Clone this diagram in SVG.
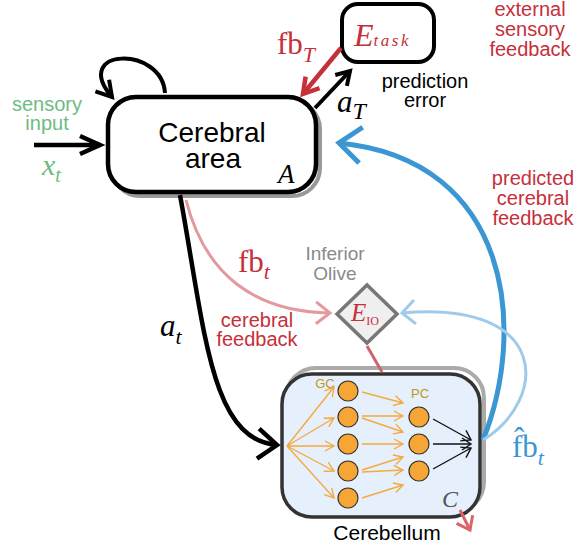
<svg xmlns="http://www.w3.org/2000/svg" width="579" height="548" viewBox="0 0 579 548">
  <style>
    .sans { font-family: "Liberation Sans", Arial, sans-serif; }
    .math { font-family: "Liberation Serif", "Times New Roman", serif; }
    .it { font-style: italic; }
    .red { fill: #c5303a; }
    .green { fill: #6dbb82; }
    .blue { fill: #3b97d3; }
    .gc { fill: #f5a634; stroke: #333; stroke-width: 1.2; }
    .orange { stroke: #f5a93e; stroke-width: 1.4; fill: none; marker-end: url(#m-orange); }
    .thin { stroke: #111; stroke-width: 1.4; fill: none; marker-end: url(#m-thin); }
    .lbl { font-size: 20px; text-anchor: middle; }
  </style>
  <defs>
    <marker id="m-blk" markerUnits="userSpaceOnUse" orient="auto" overflow="visible" markerWidth="1" markerHeight="1">
      <path d="M-20,-9 L0,0 L-20,9" fill="none" stroke="#000" stroke-width="4.5"/>
    </marker>
    <marker id="m-loop" markerUnits="userSpaceOnUse" orient="auto" overflow="visible" markerWidth="1" markerHeight="1">
      <path d="M-15,-9 L0,0 L-15,9" fill="none" stroke="#000" stroke-width="4"/>
    </marker>
    <marker id="m-at" markerUnits="userSpaceOnUse" orient="auto" overflow="visible" markerWidth="1" markerHeight="1">
      <path d="M-19,-15 L0,0 L-19,15" fill="none" stroke="#000" stroke-width="4.5"/>
    </marker>
    <marker id="m-aT" markerUnits="userSpaceOnUse" orient="auto" overflow="visible" markerWidth="1" markerHeight="1">
      <path d="M-13,-8 L0,0 L-13,8" fill="none" stroke="#000" stroke-width="4"/>
    </marker>
    <marker id="m-fbT" markerUnits="userSpaceOnUse" orient="auto" overflow="visible" markerWidth="1" markerHeight="1">
      <path d="M-15,-9 L0,0 L-15,9" fill="none" stroke="#c5303a" stroke-width="4.5"/>
    </marker>
    <marker id="m-blue" markerUnits="userSpaceOnUse" orient="auto" overflow="visible" markerWidth="1" markerHeight="1">
      <path d="M-22,-18 L0,0 L-22,18" fill="none" stroke="#3b97d3" stroke-width="5"/>
    </marker>
    <marker id="m-lblue" markerUnits="userSpaceOnUse" orient="auto" overflow="visible" markerWidth="1" markerHeight="1">
      <path d="M-13,-12 L0,0 L-13,12" fill="none" stroke="#9fcbea" stroke-width="3"/>
    </marker>
    <marker id="m-pink" markerUnits="userSpaceOnUse" orient="auto" overflow="visible" markerWidth="1" markerHeight="1">
      <path d="M-14,-11 L0,0 L-14,11" fill="none" stroke="#e3999d" stroke-width="3"/>
    </marker>
    <marker id="m-redout" markerUnits="userSpaceOnUse" orient="auto" overflow="visible" markerWidth="1" markerHeight="1">
      <path d="M-12,-9 L0,0 L-12,9" fill="none" stroke="#d9646a" stroke-width="3"/>
    </marker>
    <marker id="m-orange" markerUnits="userSpaceOnUse" orient="auto" overflow="visible" markerWidth="1" markerHeight="1">
      <path d="M-9,-5 L0,0 L-9,5" fill="none" stroke="#f5a93e" stroke-width="1.4"/>
    </marker>
    <marker id="m-thin" markerUnits="userSpaceOnUse" orient="auto" overflow="visible" markerWidth="1" markerHeight="1">
      <path d="M-9,-6 L0,0 L-9,6" fill="none" stroke="#111" stroke-width="1.4"/>
    </marker>
  </defs>

  <rect width="579" height="548" fill="#fff"/>

  <!-- free labels -->
  <g id="labels">
    <text class="sans lbl green" x="47" y="111">sensory</text>
    <text class="sans lbl green" x="47" y="130">input</text>
    <text class="math it green" x="42" y="175" font-size="30">x<tspan font-size="20" dy="7">t</tspan></text>

    <text class="math red" x="277" y="54" font-size="31">fb<tspan class="it" font-size="22" dy="8">T</tspan></text>
    <text class="math it" x="337" y="112" font-size="31">a<tspan font-size="24" dy="7">T</tspan></text>
    <text class="sans lbl" x="425" y="88">prediction</text>
    <text class="sans lbl" x="425" y="107">error</text>

    <text class="sans lbl red" x="530" y="16">external</text>
    <text class="sans lbl red" x="530" y="36">sensory</text>
    <text class="sans lbl red" x="530" y="56">feedback</text>

    <text class="sans lbl red" x="533" y="185">predicted</text>
    <text class="sans lbl red" x="533" y="205">cerebral</text>
    <text class="sans lbl red" x="533" y="225">feedback</text>

    <text class="math red" x="238" y="272" font-size="31">fb<tspan class="it" font-size="22" dy="7">t</tspan></text>
    <text class="sans lbl red" x="257" y="327">cerebral</text>
    <text class="sans lbl red" x="257" y="346">feedback</text>
    <text class="math it" x="160" y="336" font-size="31">a<tspan font-size="22" dy="8">t</tspan></text>

    <text class="math blue" x="512" y="457" font-size="31">f&#x302;b<tspan class="it" font-size="22" dy="8">t</tspan></text>
  </g>

  <!-- cerebral area -->
  <g id="cerebral">
    <rect x="112" y="101" width="208" height="95" rx="28" fill="none" stroke="#999" stroke-width="4"/>
    <rect x="108" y="97" width="208" height="95" rx="28" fill="#fff" stroke="#000" stroke-width="4.5"/>
    <text class="sans" x="212" y="142" font-size="28" text-anchor="middle">Cerebral</text>
    <text class="sans" x="213" y="168" font-size="28" text-anchor="middle">area</text>
    <text class="math it" x="278" y="183" font-size="27">A</text>
  </g>

  <!-- task error -->
  <g id="task-error">
    <rect x="342" y="4" width="92" height="58" rx="16" fill="#fff" stroke="#000" stroke-width="4"/>
    <text class="math it red" x="354" y="46" font-size="32">E<tspan font-size="17" letter-spacing="2.5">task</tspan></text>
  </g>

  <!-- inferior olive -->
  <g id="inferior-olive">
    <text class="sans" x="335" y="260" font-size="19" fill="#8a8a8a" text-anchor="middle">Inferior</text>
    <text class="sans" x="335" y="280" font-size="19" fill="#8a8a8a" text-anchor="middle">Olive</text>
    <polygon points="337,314 367,285 397,314 367,343" fill="#efefef" stroke="#777" stroke-width="3.5"/>
    <text class="math it red" x="351" y="321" font-size="25">E<tspan font-style="normal" font-size="12" dy="4">IO</tspan></text>
  </g>

  <!-- cerebellum -->
  <g id="cerebellum">
    <rect x="286" y="368" width="198" height="144" rx="30" fill="none" stroke="#aaa" stroke-width="4"/>
    <rect x="282" y="374" width="198" height="143" rx="30" fill="#e6f0fc" stroke="#333" stroke-width="3.5"/>
    <text class="sans" x="325" y="388" font-size="13" fill="#b89a1c" text-anchor="middle">GC</text>
    <text class="sans" x="420" y="398" font-size="13" fill="#b89a1c" text-anchor="middle">PC</text>
    <!-- input fan onto granule cells -->
    <path class="orange" d="M287,446 L334,387"/>
    <path class="orange" d="M287,446 L334,418"/>
    <path class="orange" d="M287,446 L334,446"/>
    <path class="orange" d="M287,446 L334,471"/>
    <path class="orange" d="M287,446 L334,498"/>
    <!-- granule to Purkinje -->
    <path class="orange" d="M362,392 L403,403"/>
    <path class="orange" d="M362,416 L403,416"/>
    <path class="orange" d="M362,418 L403,432"/>
    <path class="orange" d="M362,444 L403,444"/>
    <path class="orange" d="M362,470 L403,457"/>
    <path class="orange" d="M362,472 L403,470"/>
    <path class="orange" d="M362,498 L403,485"/>
    <!-- Purkinje output -->
    <path class="thin" d="M433,419 L471,440"/>
    <path class="thin" d="M433,444 L471,444"/>
    <path class="thin" d="M433,469 L471,448"/>
    <circle class="gc" cx="348" cy="391" r="10"/>
    <circle class="gc" cx="348" cy="417" r="10"/>
    <circle class="gc" cx="348" cy="444" r="10"/>
    <circle class="gc" cx="348" cy="471" r="10"/>
    <circle class="gc" cx="348" cy="498" r="10"/>
    <circle class="gc" cx="419" cy="417" r="10"/>
    <circle class="gc" cx="419" cy="444" r="10"/>
    <circle class="gc" cx="419" cy="471" r="10"/>
    <text class="math it" x="442" y="507" font-size="24" fill="#555">C</text>
    <text class="sans" x="387" y="540" font-size="21" text-anchor="middle">Cerebellum</text>
  </g>

  <!-- connectors -->
  <g id="connectors" fill="none">
    <path d="M34,145 L100,145" stroke="#000" stroke-width="4.5" marker-end="url(#m-blk)"/>
    <path d="M165,93 C162,45 70,48 112,97" stroke="#000" stroke-width="4" marker-end="url(#m-loop)"/>
    <path d="M341,48 L303,94" stroke="#c5303a" stroke-width="4.5" marker-end="url(#m-fbT)"/>
    <path d="M315,108 L350,71" stroke="#000" stroke-width="4" marker-end="url(#m-aT)"/>
    <path d="M180,195 C205,330 210,440 277,445" stroke="#000" stroke-width="4.5" marker-end="url(#m-at)"/>
    <path d="M186,200 C205,275 255,312 330,313" stroke="#e3999d" stroke-width="3" marker-end="url(#m-pink)"/>
    <path d="M483,440 C527,330 512,160 339,143" stroke="#3b97d3" stroke-width="5" marker-end="url(#m-blue)"/>
    <path d="M483,440 C548,400 552,300 402,313" stroke="#9fcbea" stroke-width="3" marker-end="url(#m-lblue)"/>
    <path d="M367,346 L382,372" stroke="#d0646c" stroke-width="3"/>
    <path d="M460,510 L470,530" stroke="#d9646a" stroke-width="3" marker-end="url(#m-redout)"/>
  </g>
</svg>
